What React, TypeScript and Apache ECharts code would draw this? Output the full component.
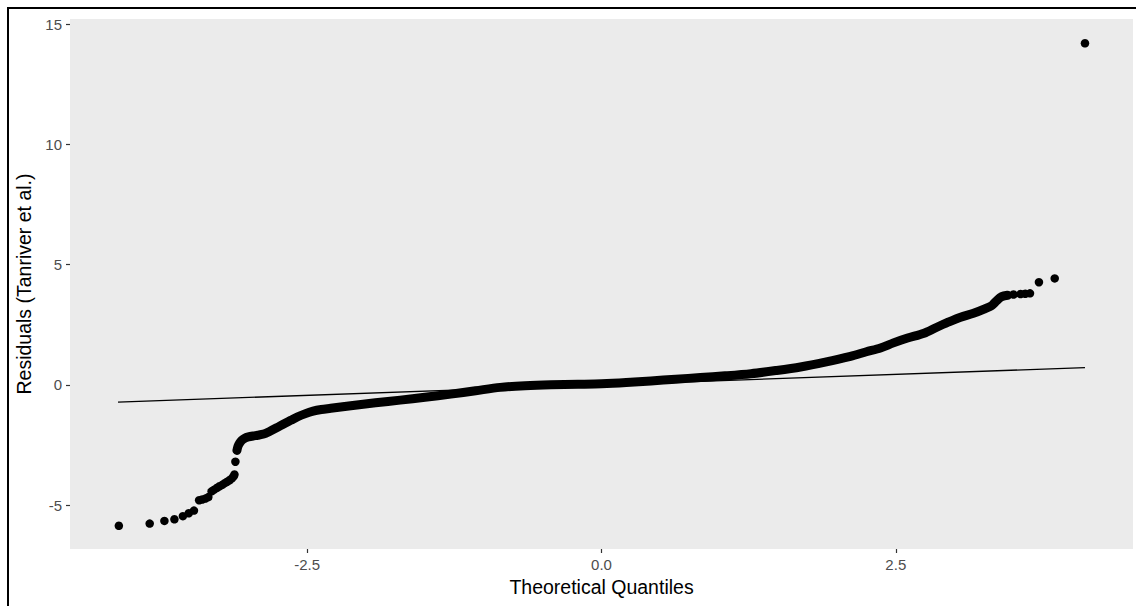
import React, { useEffect, useRef } from "react";
import * as echarts from "echarts";

// Axis setup
const xTicks = [-2.5, 0, 2.5];
const yTicks = [-5, 0, 5, 10, 15];
const xRange = [-4.515, 4.515];
const yRange = [-6.816, 15.21];

// Sparse lower tail: individual sample quantiles
const lowerTail: [number, number][] = [
  [-4.1, -5.85],
  [-3.838, -5.76],
  [-3.713, -5.65],
  [-3.628, -5.58],
  [-3.556, -5.45],
  [-3.506, -5.33],
  [-3.462, -5.22],
  [-3.418, -4.79],
  [-3.392, -4.76],
  [-3.365, -4.72],
  [-3.34, -4.66],
  [-3.312, -4.42],
  [-3.29, -4.35],
  [-3.265, -4.27],
  [-3.245, -4.21],
  [-3.222, -4.15],
  [-3.2, -4.08],
  [-3.18, -4.02],
  [-3.16, -3.96],
  [-3.14, -3.88],
  [-3.125, -3.8],
  [-3.118, -3.72],
  [-3.11, -3.19],
];

// Dense body of the sample (thousands of overlapping points)
const body: [number, number][] = [
  [-3.097, -2.72],
  [-3.088, -2.55],
  [-3.075, -2.42],
  [-3.055, -2.3],
  [-3.03, -2.21],
  [-3.0, -2.16],
  [-2.96, -2.12],
  [-2.92, -2.09],
  [-2.87, -2.04],
  [-2.82, -1.93],
  [-2.76, -1.78],
  [-2.7, -1.62],
  [-2.64, -1.47],
  [-2.58, -1.32],
  [-2.52, -1.2],
  [-2.45, -1.09],
  [-2.38, -1.02],
  [-2.3, -0.97],
  [-2.13, -0.86],
  [-1.92, -0.74],
  [-1.71, -0.63],
  [-1.5, -0.51],
  [-1.28, -0.38],
  [-1.07, -0.24],
  [-0.86, -0.1],
  [-0.65, -0.03],
  [-0.43, 0.01],
  [-0.2, 0.03],
  [0.0, 0.05],
  [0.21, 0.1],
  [0.42, 0.17],
  [0.63, 0.24],
  [0.84, 0.31],
  [1.05, 0.38],
  [1.27, 0.47],
  [1.48, 0.6],
  [1.69, 0.75],
  [1.9, 0.95],
  [2.115, 1.19],
  [2.25, 1.38],
  [2.37, 1.54],
  [2.48, 1.75],
  [2.6, 1.95],
  [2.74, 2.15],
  [2.84, 2.38],
  [2.94, 2.6],
  [3.05, 2.82],
  [3.16, 2.98],
  [3.25, 3.15],
  [3.32, 3.32],
  [3.36, 3.52],
  [3.4, 3.67],
  [3.45, 3.73],
];

// Sparse upper tail
const upperTail: [number, number][] = [
  [3.5, 3.76],
  [3.56, 3.78],
  [3.6, 3.79],
  [3.64, 3.81],
  [3.716, 4.27],
  [3.85, 4.43],
  [4.107, 14.2],
];

// Reference (qq) line endpoints
const refLine: [number, number][] = [
  [-4.107, -0.71],
  [4.107, 0.72],
];

const FONT = "'Liberation Sans', Arial, Helvetica, sans-serif";
const POINT = 8.5;

export default function App() {
  const ref = useRef<HTMLDivElement>(null);

  useEffect(() => {
    if (!ref.current) return;
    const chart = echarts.init(ref.current, undefined, { renderer: "svg" });
    chart.setOption({
      animation: false,
      backgroundColor: "#ffffff",
      grid: {
        left: 70,
        right: 3,
        top: 19,
        bottom: 57,
        show: true,
        backgroundColor: "#EBEBEB",
        borderWidth: 0,
      },
      xAxis: {
        type: "value",
        min: xRange[0],
        max: xRange[1],
        name: "Theoretical Quantiles",
        nameLocation: "middle",
        nameGap: 28,
        nameTextStyle: { fontFamily: FONT, fontSize: 19.5, color: "#000" },
        axisLine: { show: false, onZero: false },
        splitLine: { show: false },
        axisTick: {
          show: true,
          inside: false,
          length: 4,
          customValues: xTicks,
          lineStyle: { color: "#333", width: 1.2 },
        },
        axisLabel: {
          customValues: xTicks,
          margin: 8,
          fontFamily: FONT,
          fontSize: 15,
          color: "#4D4D4D",
          formatter: (v: number) => v.toFixed(1),
        },
      },
      yAxis: {
        type: "value",
        min: yRange[0],
        max: yRange[1],
        name: "Residuals (Tanriver et al.)",
        nameLocation: "middle",
        nameGap: 36,
        nameTextStyle: { fontFamily: FONT, fontSize: 19.5, color: "#000" },
        axisLine: { show: false, onZero: false },
        splitLine: { show: false },
        axisTick: {
          show: true,
          inside: false,
          length: 4,
          customValues: yTicks,
          lineStyle: { color: "#333", width: 1.2 },
        },
        axisLabel: {
          customValues: yTicks,
          margin: 8,
          fontFamily: FONT,
          fontSize: 15,
          color: "#4D4D4D",
          formatter: (v: number) => String(Math.round(v)),
        },
      },
      series: [
        {
          type: "line",
          data: body,
          symbol: "none",
          smooth: 0.3,
          lineStyle: { color: "#000", width: POINT + 0.5, cap: "round", join: "round" },
          silent: true,
          z: 2,
        },
        {
          type: "scatter",
          data: lowerTail.concat(upperTail),
          symbol: "circle",
          symbolSize: POINT,
          itemStyle: { color: "#000", opacity: 1 },
          silent: true,
          z: 3,
        },
        {
          type: "line",
          data: refLine,
          symbol: "none",
          lineStyle: { color: "#000", width: 1.4 },
          silent: true,
          z: 4,
        },
      ],
      graphic: [
        {
          type: "rect",
          silent: true,
          z: 100,
          shape: { x: 8, y: 8, width: 1140, height: 610 },
          style: { fill: "none", stroke: "#000", lineWidth: 2 },
        },
      ],
    });
    return () => chart.dispose();
  }, []);

  return (
    <div
      ref={ref}
      style={{ position: "fixed", left: 0, top: 0, width: 1136, height: 606, background: "#fff" }}
    />
  );
}
